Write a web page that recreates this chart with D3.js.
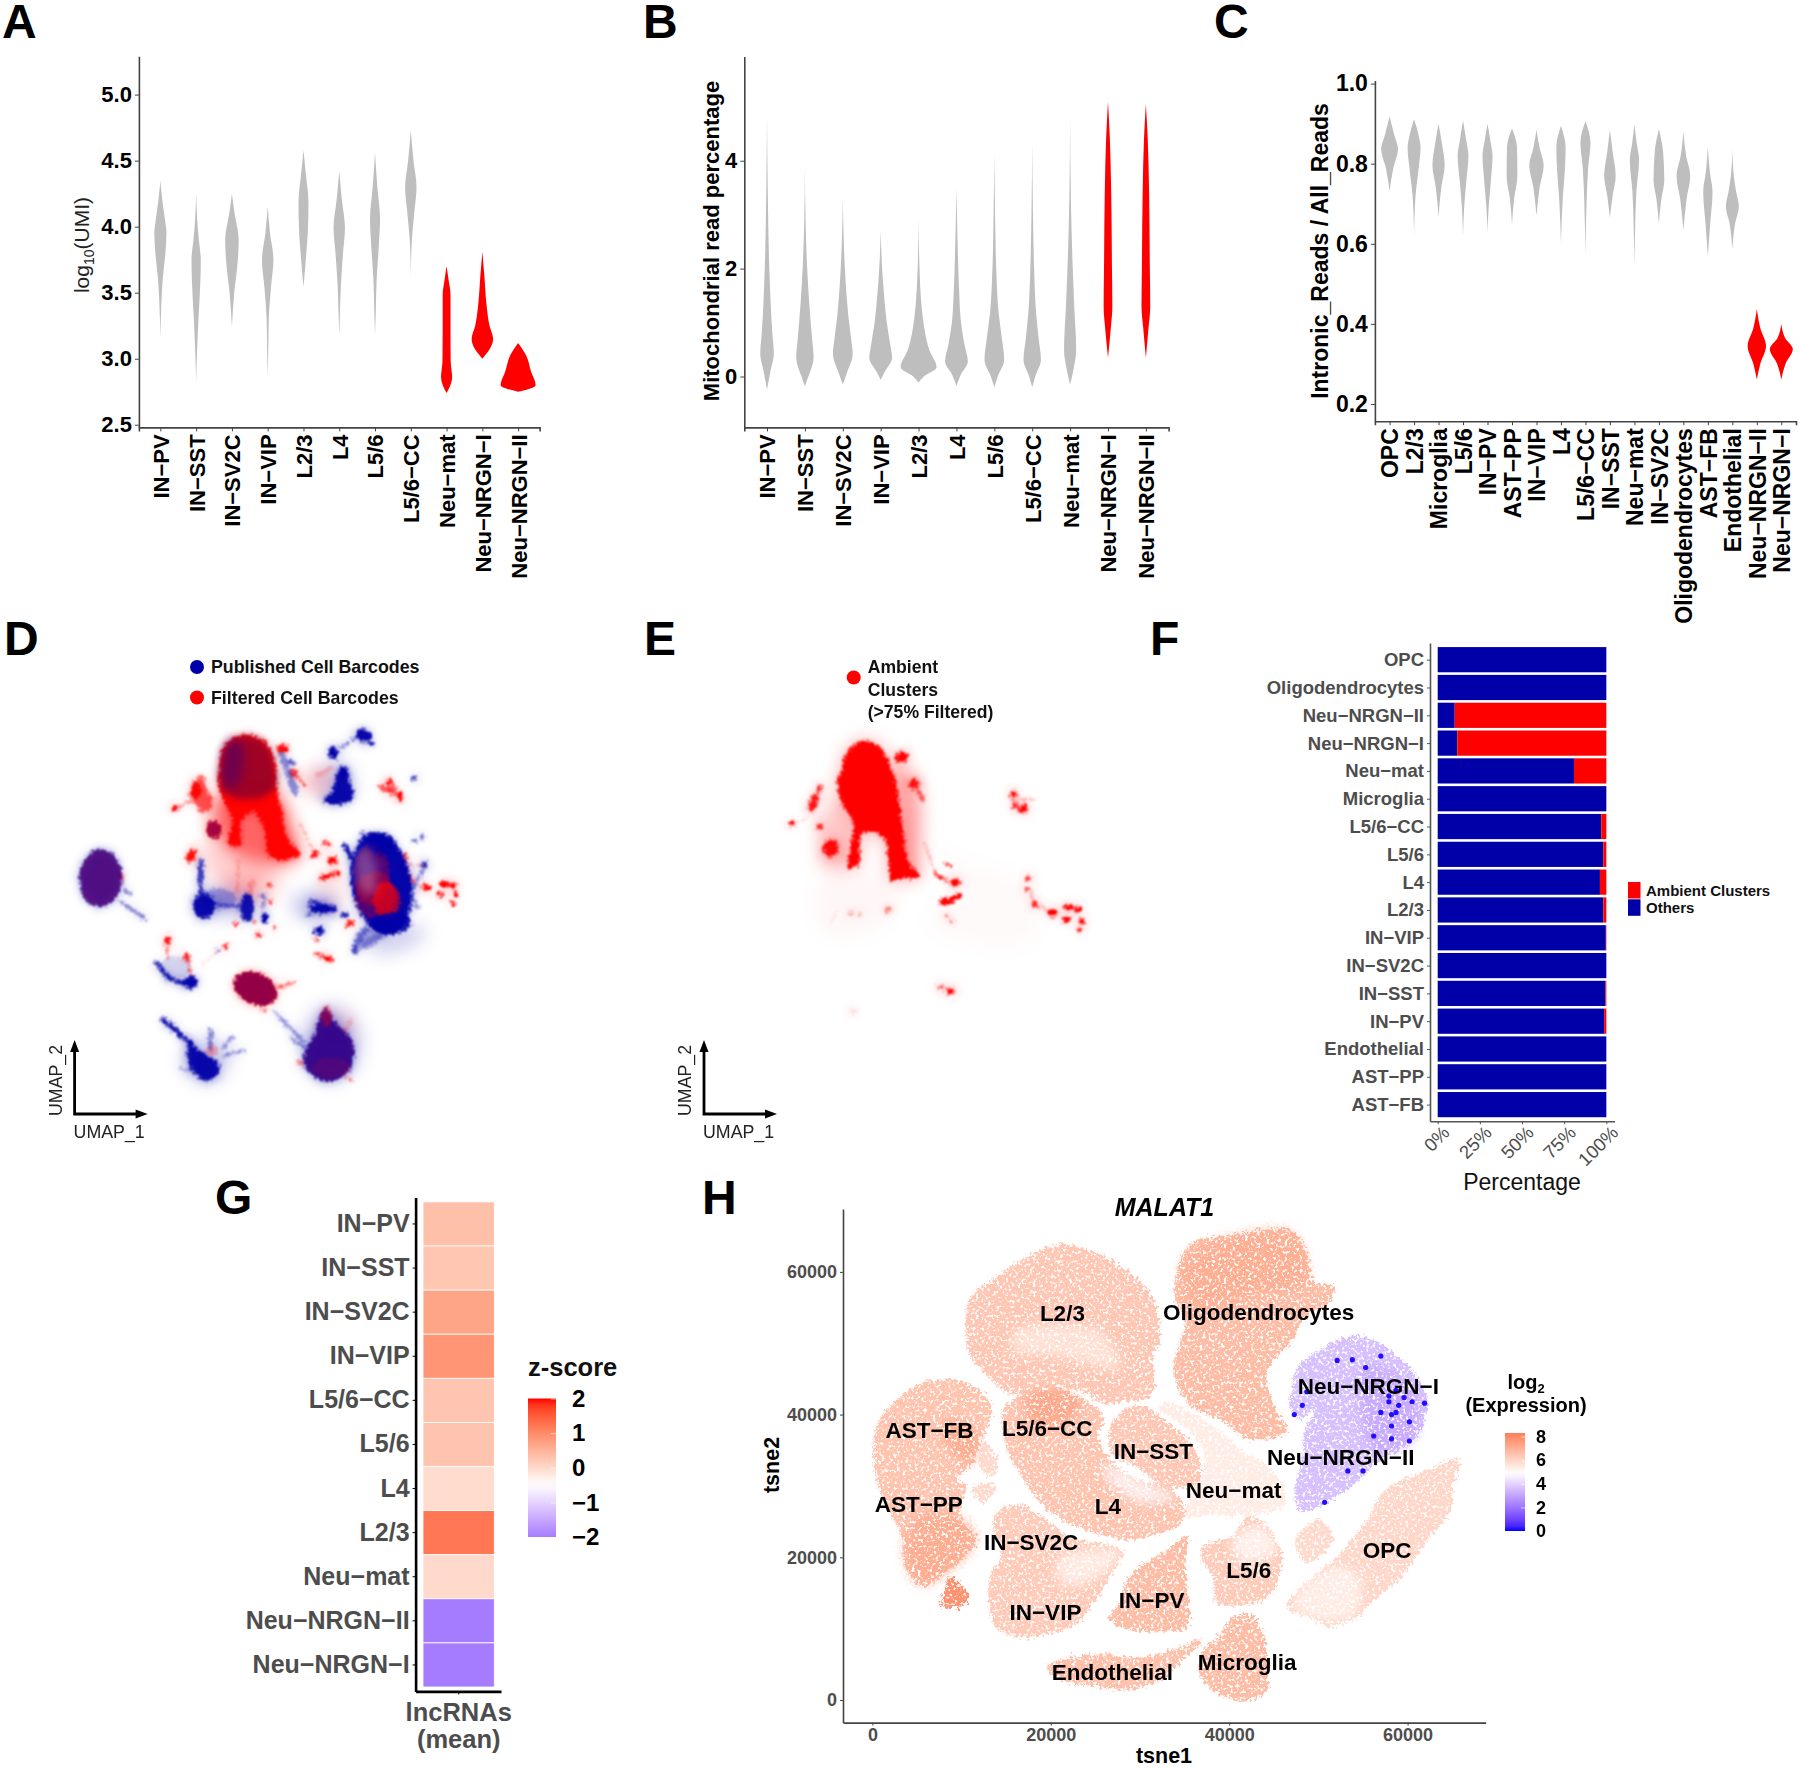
<!DOCTYPE html>
<html>
<head>
<meta charset="utf-8">
<script src="https://cdn.jsdelivr.net/npm/d3@7"></script>
<style>
  body { margin: 0; background: #fff; }
  svg { display: block; font-family: "Liberation Sans", Arial, sans-serif; }
</style>
</head>
<body>
<div id="chart"></div>
<script>
// ---- panel A: log10(UMI) violins, value stops and density (100 = half a category step)
const umiCats = ["IN−PV", "IN−SST", "IN−SV2C", "IN−VIP", "L2/3", "L4", "L5/6", "L5/6−CC", "Neu−mat", "Neu−NRGN−I", "Neu−NRGN−II"];
const umiAmbient = ["Neu−mat", "Neu−NRGN−I", "Neu−NRGN−II"];
const umiValues = [
  [4.35, 4.2, 4.05, 3.95, 3.8, 3.6, 3.4, 3.15],
  [4.25, 4.05, 3.9, 3.75, 3.6, 3.3, 3.05, 2.83],
  [4.25, 4.1, 3.9, 3.7, 3.5, 3.24],
  [4.15, 3.95, 3.75, 3.55, 3.3, 3.05, 2.86],
  [4.58, 4.4, 4.18, 3.95, 3.75, 3.54],
  [4.42, 4.2, 3.99, 3.8, 3.55, 3.35, 3.17],
  [4.56, 4.3, 4.06, 3.85, 3.6, 3.35, 3.18],
  [4.73, 4.5, 4.3, 4.1, 3.9, 3.62],
  [3.7, 3.6, 3.48, 3.2, 2.98, 2.86, 2.74],
  [3.81, 3.63, 3.4, 3.25, 3.15, 3.0],
  [3.12, 3.03, 2.9, 2.8, 2.75]
];
const umiDensity = [
  [0, 11, 26, 34, 28, 13, 5, 0],
  [0, 6, 15, 26, 24, 13, 5, 0],
  [0, 15, 38, 30, 13, 0],
  [0, 13, 32, 19, 6, 3, 0],
  [0, 13, 28, 24, 13, 0],
  [0, 15, 32, 21, 9, 4, 0],
  [0, 13, 28, 21, 9, 4, 0],
  [0, 15, 32, 19, 6, 0],
  [0, 11, 22, 22, 23, 31, 0],
  [0, 11, 24, 40, 60, 0],
  [0, 43, 73, 98, 0]
];

// ---- panel B: mitochondrial read percentage
const mitoCats = umiCats;
const mitoAmbient = ["Neu−NRGN−I", "Neu−NRGN−II"];
const mitoValues = [
  [4.85, 3.4, 2, 1.3, 0.8, 0.42, 0.1, -0.24],
  [3.9, 2.8, 2, 1.3, 0.7, 0.35, 0, -0.18],
  [3.3, 2.4, 1.7, 1.1, 0.7, 0.42, 0.05, -0.15],
  [2.72, 2.1, 1.5, 1, 0.6, 0.35, 0.08, -0.06],
  [2.94, 2, 1.3, 0.9, 0.5, 0.17, 0, -0.11],
  [3.5, 2.5, 1.6, 1, 0.6, 0.28, 0.03, -0.17],
  [4.14, 3, 2, 1.2, 0.7, 0.31, 0, -0.2],
  [4.35, 3, 2, 1.2, 0.7, 0.31, 0, -0.2],
  [4.85, 3.3, 2.2, 1.3, 0.49, 0.1, -0.15],
  [5.1, 4.4, 3.4, 2, 1.3, 0.9, 0.35],
  [5.05, 4.4, 3.4, 2, 1.3, 0.9, 0.35]
];
const mitoDensity = [
  [0, 4, 12, 20, 28, 36, 18, 0],
  [0, 4, 12, 24, 38, 46, 18, 0],
  [0, 6, 16, 30, 44, 52, 20, 0],
  [0, 6, 18, 32, 50, 60, 20, 0],
  [0, 5, 16, 30, 56, 95, 28, 0],
  [0, 6, 14, 24, 42, 60, 22, 0],
  [0, 4, 10, 22, 40, 52, 18, 0],
  [0, 4, 10, 20, 34, 46, 16, 0],
  [0, 4, 12, 22, 32, 16, 0],
  [0, 10, 17, 21, 23, 15, 0],
  [0, 10, 17, 21, 23, 14, 0]
];

// ---- panel C: intronic read fraction
const intronCats = ["OPC", "L2/3", "Microglia", "L5/6", "IN−PV", "AST−PP", "IN−VIP", "L4", "L5/6−CC", "IN−SST", "Neu−mat", "IN−SV2C", "Oligodendrocytes", "AST−FB", "Endothelial", "Neu−NRGN−II", "Neu−NRGN−I"];
const intronAmbient = ["Neu−NRGN−II", "Neu−NRGN−I"];
const intronValues = [
  [.918, .87, .837, .79, .732],
  [.911, .87, .84, .79, .72, .62],
  [.9, .85, .796, .74, .667],
  [.908, .86, .82, .76, .69, .62],
  [.9, .86, .82, .76, .69, .63],
  [.888, .84, .77, .71, .648],
  [.885, .84, .796, .74, .67],
  [.895, .84, .78, .72, .6],
  [.906, .852, .79, .7, .572],
  [.885, .83, .77, .72, .665],
  [.898, .85, .81, .73, .64, .54],
  [.886, .83, .76, .71, .65],
  [.88, .82, .77, .71, .633],
  [.842, .78, .73, .65, .569],
  [.837, .77, .73, .694, .65, .587],
  [.437, .39, .345, .3, .261],
  [.40, .365, .337, .3, .261]
];
const intronDensity = [
  [0, 40, 69, 31, 0],
  [0, 38, 53, 38, 12, 0],
  [0, 28, 50, 22, 0],
  [0, 25, 44, 28, 9, 0],
  [0, 22, 41, 28, 9, 0],
  [0, 41, 44, 16, 0],
  [0, 25, 59, 25, 0],
  [0, 38, 31, 16, 0],
  [0, 41, 22, 9, 0],
  [0, 22, 47, 22, 0],
  [0, 19, 38, 16, 6, 0],
  [0, 34, 44, 19, 0],
  [0, 22, 56, 25, 0],
  [0, 16, 38, 19, 0],
  [0, 12, 31, 53, 22, 0],
  [0, 28, 75, 28, 0],
  [0, 31, 94, 34, 0]
];

// ---- panel D: UMAP cloud read off as outlines, ellipses [x, y, rx, ry, angle, alpha]
// and filaments [x1, y1, x2, y2, width, alpha]
const dRedUnderOutline = [[660,430],[680,360],[740,332],[800,355],[830,415],[835,490],[850,560],[870,640],[905,680],[845,698],[810,680],[795,600],[760,555],[725,590],[725,655],[690,650],[700,575],[675,530],[660,480]];
const dDomeOutline = [[662,440],[680,362],[740,336],[800,358],[828,420],[832,480],[800,510],[740,520],[690,510],[665,480]];
const dFogOutline = [[640,530],[700,500],[840,510],[880,600],[900,680],[840,700],[740,690],[660,630]];
const dLowFogOutline = [[600,650],[720,660],[900,700],[800,760],[760,820],[700,800],[650,760]];
const dLeftRedOutline = [[575,495],[610,450],[620,480],[640,540],[610,560],[590,530]];
const dUpperBlueOutline = [[975,525],[1000,500],[1020,440],[1040,430],[1055,470],[1065,515],[1030,535]];
const dLowLeftOutline = [[570,1225],[600,1250],[660,1290],[655,1320],[625,1338],[590,1320],[570,1290]];
const dLowRightOutline = [[985,1125],[1005,1160],[1060,1220],[1068,1270],[1040,1320],[985,1340],[930,1310],[915,1270],[950,1200],[965,1150]];
const dRoundOutline = [[245,720],[290,668],[340,680],[365,730],[360,790],[320,830],[270,825],[245,780]];

const dRedEllipses = [
  [590,495,17,25,0,.9],[528,547,10,7,-30,1],[645,608,22,25,0,.95],[578,685,14,20,30,.95],
  [852,373,17,13,0,.95],[885,445,12,12,0,.7],[1175,470,10,10,0,1],[1205,512,10,15,-20,1],[1165,490,25,10,20,.6],[1185,495,14,14,0,.5],
  [1220,690,8,10,0,.8],[1003,698,14,10,0,1],[950,680,10,12,30,.9],[985,650,14,6,20,.8],[1055,882,14,8,-30,.9],[955,930,6,6,0,.6],[990,985,12,8,0,1],
  [1287,777,14,9,0,1],[1340,768,16,10,0,1],[1328,796,10,8,0,1],[1365,770,12,8,0,1],[1375,798,9,7,30,1],[1365,822,8,7,0,.9],
  [812,770,7,6,0,.8],[815,818,7,7,0,.7],[712,882,8,6,0,.8],[778,915,9,8,0,.9],[828,892,6,6,0,.6],[768,878,6,6,0,.5],
  [505,933,9,13,0,.9],[562,978,8,12,0,.8],[680,948,8,8,0,.8],[770,1070,68,45,22,1],[795,1135,7,7,0,.4],[905,1285,10,8,0,.5],[365,745,8,8,0,.7]
];
const dBlueEllipses = [
  [615,830,33,36,0,.95],[745,835,20,40,0,.9],[798,865,11,14,0,1],[790,800,8,8,0,.5],[795,820,6,6,0,.5],[660,810,50,30,0,.25],
  [1005,385,16,18,0,1],[1035,440,15,15,0,1],[1095,335,25,18,10,.95],[1248,460,9,8,0,.7],
  [1150,765,90,150,-10,.97],[1280,710,8,10,0,.7],[1275,630,6,7,0,.6],[1250,640,8,7,0,.5],[1070,960,10,12,0,.6],
  [975,838,42,14,0,.95],[962,903,16,12,0,.95],[1040,857,12,8,0,.8],[655,960,6,5,0,.5],[530,1010,45,35,0,.12],[575,1052,20,18,0,.95],
  [300,745,62,84,0,.1],[1110,920,50,30,-30,.25]
];
const dRedOverlay = [
  [1120,740,55,90,0,.3],[1165,815,40,55,0,.65],[1130,800,60,70,0,.3],[640,1250,20,15,0,.25],[985,1150,18,30,0,.35],[1000,1300,60,30,0,.12]
];
const dBlueOverlay = [
  [645,608,22,25,0,.35],[770,1070,68,45,22,.42],[1180,880,60,30,0,.9],[1150,650,40,30,0,.8],[575,1052,20,18,0,.3]
];
const dDomeShade = [[700,420,35,75,8,.3]];
const dBlueFog = [[680,820,85,45,0,.22],[1200,930,90,30,-20,.2],[1010,470,60,60,0,.15],[620,1280,70,60,0,.2],[1000,1230,90,110,0,.2],[950,830,70,40,0,.25]];
const dRedFog = [[760,770,90,50,0,.14],[960,470,40,40,0,.25],[1000,790,40,60,0,.1],[1010,1190,50,50,0,.16]];
const dPaleSpots = [[1105,730,30,70,-8,.25]];
const dBlueRays = [
  [605,700,605,790,16,.7],[655,825,730,835,12,.5],[800,800,790,850,5,.4],[850,390,890,500,20,.4],[870,410,885,415,12,.6],
  [1025,370,1085,335,7,.5],[1100,340,1125,362,9,.9],[1040,655,1075,720,15,.9],[1090,620,1130,640,9,.5],[1285,705,1240,790,9,.5],
  [1070,950,1100,900,18,.4],[1100,940,1180,900,20,.25],[935,815,990,835,9,.8],[925,860,945,845,7,.5],[925,830,950,840,6,.5],[470,995,510,1040,12,.85],[510,1040,570,1060,12,.85],
  [830,1140,915,1225,10,.4],[490,1160,575,1230,13,.9],[635,1190,635,1250,11,.5],[700,1210,670,1245,9,.4],[735,1250,675,1265,9,.4],[545,1303,585,1310,8,.4],
  [880,1215,930,1250,9,.4],[365,820,440,868,9,.45],[375,785,392,795,10,.5],[1240,800,1260,835,8,.4]
];
const dRedRays = [
  [525,547,590,520,6,.5],[890,450,920,480,6,.6],[1210,720,1245,760,10,.7],[1210,710,1280,715,4,.4],[965,750,1020,735,12,1],[905,590,950,680,4,.3],
  [950,968,995,985,8,.9],[565,970,578,1040,7,.5],[505,930,505,985,5,.5],[610,1000,680,945,4,.15],[840,1065,888,1052,8,.6],[1060,1160,1030,1210,6,.3],
  [1040,1325,1065,1340,6,.6],[720,700,715,800,10,.15],[760,760,745,830,14,.25],[960,450,1000,430,14,.18]
];

// ---- panel E: same cells, ambient clusters only
const eMainOutline = [[600,450],[620,385],[670,350],[720,370],[755,430],[775,510],[790,620],[805,700],[840,745],[780,750],[755,760],[745,700],[735,640],[700,615],[665,620],[655,710],[625,720],[635,640],[640,590],[605,530],[590,470]];
const eFogOutline = [[560,540],[610,530],[640,600],[620,720],[550,720]];
const eFog2Outline = [[770,420],[820,450],[840,540],[835,690],[830,740],[790,730],[780,500]];
const eFog3Outline = [[850,640],[960,690],[1190,780],[1180,930],[1020,950],[860,880],[930,760]];
const eFog4Outline = [[540,760],[760,760],[740,880],[550,910]];
const eNodes = [
  [785,397,20,15,0,1],[822,475,14,15,0,.9],[520,530,12,28,20,.9],[538,490,8,12,20,.8],[455,590,10,7,-30,1],[540,600,12,8,0,.8],[572,663,23,26,0,.95],
  [1120,505,11,11,0,1],[1150,548,13,13,0,1],[1125,540,9,9,0,.8],[945,762,15,11,0,1],[922,860,6,6,0,.5],[933,875,5,5,0,.5],
  [1165,750,8,11,0,.7],[1160,780,7,7,0,.6],[1185,825,10,10,0,.8],[1237,850,15,11,0,1],[1285,835,13,10,0,1],[1315,840,11,9,0,1],[1278,870,11,10,0,1],[1325,875,10,8,30,1],[1318,898,7,7,0,.9],
  [900,1065,10,6,0,.7],[930,1078,13,9,0,1],[632,853,7,6,0,.4],[660,855,6,5,0,.25],[745,840,9,8,-30,.5],[640,1137,6,5,0,.12]
];
const eRays = [
  [850,525,825,480,10,.6],[505,575,460,590,4,.25],[905,820,960,800,12,1],[905,820,935,815,17,1],[880,735,915,755,8,.9],[915,705,935,715,6,.8],[855,650,885,735,5,.3],[1185,520,1110,520,4,.4],[1165,780,1190,830,5,.45],[1190,830,1240,850,4,.35],[570,880,590,845,5,.12]
];

// ---- panel F: share of ambient clusters per cell type
const shareCats = ["OPC", "Oligodendrocytes", "Neu−NRGN−II", "Neu−NRGN−I", "Neu−mat", "Microglia", "L5/6−CC", "L5/6", "L4", "L2/3", "IN−VIP", "IN−SV2C", "IN−SST", "IN−PV", "Endothelial", "AST−PP", "AST−FB"];
const shareAmbient = [0, 0, 89.9, 88.4, 19.2, 0, 3, 1.8, 3.8, 1.8, .3, 0, .5, 1.3, 0, 0, 0];
const shareTicks = [0, 25, 50, 75, 100];

// ---- panel G: lncRNA z-scores
const lncCats = ["IN−PV", "IN−SST", "IN−SV2C", "IN−VIP", "L5/6−CC", "L5/6", "L4", "L2/3", "Neu−mat", "Neu−NRGN−II", "Neu−NRGN−I"];
const lncZ = [.33, .25, .68, .87, .27, .28, -.03, 1.22, 0, -2, -2];
const lncLegendTicks = [2, 1, 0, -1, -2];

// ---- panel H: tSNE clusters, outlines in thousands of tsne units
const clusterNames = ["AST", "AST-tail", "AST-isle1", "AST-isle2", "L2/3", "Oligodendrocytes", "L5/6-CC+L4", "IN-SST", "Neu-mat", "L5/6", "IN-SV2C+VIP", "IN-PV", "OPC", "OPC-isle", "Endothelial", "Microglia", "Neu-NRGN"];
const clusterExpr = [6.5, 7.8, 5.9, 5.9, 6.4, 6.7, 6.5, 6.4, 5.4, 6.3, 6.3, 6.7, 6.0, 5.9, 6.6, 6.7, 3.6];
const clusterOutlines = [
  [[.7,39.2],[3.5,42.9],[6.4,44.7],[10.4,44.5],[13.3,41.3],[12.1,36.1],[11,32.9],[9.3,30.8],[10.4,30.3],[9.8,25.6],[11.6,22.4],[10.4,20.3],[8.1,17.7],[5.3,15.9],[3.5,19.3],[3.3,22.9],[1.8,26.6],[.4,30.8],[.1,36.1]],
  [[8.7,17.2],[10.7,14.8],[10.1,13.2],[7.6,13.2],[8.1,15.6]],
  [[12.4,36.1],[14.1,33.4],[13.3,31.3],[12.1,32.4]],
  [[11,29.8],[13.3,30.3],[13.8,29.8],[12.4,27.7]],
  [[11,56.5],[13.8,59.2],[17.3,62.1],[20.7,63.8],[24.1,63.1],[28.1,60.5],[31,57.1],[32.1,53.4],[32.1,49.7],[31.3,48.1],[31.6,45],[31,42.4],[28.1,41.8],[25.9,41.6],[23,43.4],[19.6,43.7],[15.6,42.9],[13.3,45],[11,48.1],[10.4,51.8]],
  [[33.9,58.6],[35.6,63.9],[40.2,65.2],[47,65.7],[48.7,62.3],[49.3,58.6],[51.6,58.1],[51.3,56],[48.2,53.4],[47.3,50.8],[44.2,46],[45.3,40.3],[46.4,37.6],[42.2,36.6],[39,39.2],[35.6,41.3],[33.9,45],[33.9,48.1],[35,52.9],[33.9,56]],
  [[14.7,40.8],[17.3,43.2],[20.7,43.7],[23.6,42.1],[25.9,39.7],[25.3,37.1],[26.4,34],[29.9,30.8],[33.3,29.8],[35,26.6],[34.1,24.3],[31,22.9],[28.1,22.5],[23.6,24],[19.6,26.6],[16.7,31.3],[15,35.5]],
  [[27,39.2],[29.6,41.3],[33.3,38.7],[36.2,35],[36.7,30.8],[35,29.8],[32.1,30.3],[29.9,32.4],[27,34.5],[26.4,36.6]],
  [[32.7,41.8],[35.6,40.3],[39,37.6],[41.3,35],[44.2,32.9],[46.4,28.7],[45.9,26.9],[43.6,26.1],[40.2,25.6],[37.9,26.1],[35,25.6],[35.6,28.7],[37,31.9],[37,35],[35,38.2],[32.1,40.8]],
  [[37,21.6],[40.2,22.9],[41.9,25.6],[43.6,25],[45.3,22.4],[45.9,19.8],[45,15.6],[43.9,14],[40.7,13.2],[38.4,13.8],[38.2,17.2],[37,19.3]],
  [[13.8,26.1],[16.1,27.4],[19,25.6],[21.9,22.9],[28.1,20.8],[27,18.2],[24.7,13.5],[22.4,10.3],[19.6,9.3],[16.1,8.8],[13.8,10.3],[13,13.5],[13.3,17.7],[14.4,20.3],[13.6,23.5]],
  [[33.9,21.9],[35.3,22.9],[35,19.3],[35.3,15.1],[35.3,10.3],[32.1,9.6],[28.1,10.1],[26.4,11.4],[27.6,13.5],[28.4,16.6],[29.9,18.7],[32.1,20.3]],
  [[46.4,13],[49.3,17.2],[52.2,20.3],[55.6,25.6],[57.3,29.2],[62.5,32.4],[65.6,33.7],[65,29.2],[64.8,26.6],[61.9,21.9],[59.6,17.7],[56.7,14.5],[53.9,11.4],[51,10.3],[48.7,11.7]],
  [[47.3,22.4],[49.9,25.3],[51.6,22.9],[50.7,20.8],[48.7,19.2],[47.8,20.3]],
  [[19.6,4.6],[21.9,5.9],[26.4,6.4],[29.9,5.9],[33.9,7.2],[37,8.5],[36.7,8],[34.4,5.1],[32.1,2.7],[28.1,1.4],[25.3,1.9],[21.3,2.7]],
  [[40.2,11.4],[42.4,11.9],[43.9,8.8],[44.2,4.6],[44.2,1.2],[41.3,-.1],[38.4,1.2],[36.7,3.5],[37,6.7],[39,9.3]],
  [[47,43.4],[47.6,46.6],[51,49.7],[54.7,51],[59,48.1],[61.9,43.4],[62.2,40.8],[60.7,36.6],[56.7,33.4],[54.5,30.8],[51.6,28.2],[47.9,26.4],[47.3,29.2],[48.2,34],[48.4,37.6],[49.6,40.8],[47.9,39.5],[46.7,41.3]]
];
// local differences inside the clusters
const patchExpr = [7.5, 4.8, 5.5, 7.3, 7.3, 7.2, 5.2, 5.2, 5, 3.0];
const patchOutlines = [
  [[17.3,42.6],[20.7,43.4],[23.3,41.8],[21.9,39.2],[17.8,38.7]],
  [[25.9,32.9],[31,30.3],[33.9,28.2],[29.9,27.7],[26.4,30.8]],
  [[16.1,51.8],[25.3,51.8],[27.6,46.6],[20.7,48.1],[15.6,49.2]],
  [[4.7,25.6],[9.8,25.6],[11.6,22.4],[8.7,18.2],[5.3,16.1],[3.5,20.3]],
  [[8.1,39.2],[11.8,37.1],[11,32.9],[8.7,35]],
  [[34.7,61.3],[40.2,64.9],[47,65.5],[48.7,58.6],[43.6,57.1],[35.6,55.5]],
  [[20.7,19.8],[27.9,20.8],[25.3,17.2],[21.3,16.1]],
  [[47,13.5],[51.6,18.7],[54.5,17.2],[53.9,11.9],[49.3,11.4]],
  [[40.2,22.4],[43.6,24.5],[45.3,20.8],[41.3,19.3]],
  [[55,46.6],[60.7,43.4],[60.7,36.6],[56.2,35]]
];
const lowCells = [[48.7,43.2],[48.2,41.3],[47.3,40],[52.1,47.6],[53.8,47.7],[57,48.2],[55.3,46.6],[57.9,42.6],[59.6,42.4],[60.5,41.8],[61.9,41.6],[57,40.3],[58.2,40],[58.7,40.3],[60.2,39],[58.2,38.4],[60.2,36.3],[58.2,36.6],[56.2,37],[55,32.1],[50.7,27.7],[53.3,32.1],[58.7,43.4],[57.9,41.8],[59,41.3]];
const labelNames = ["L2/3", "Oligodendrocytes", "Neu−NRGN−I", "AST−FB", "L5/6−CC", "IN−SST", "Neu−NRGN−II", "Neu−mat", "L4", "AST−PP", "IN−SV2C", "OPC", "L5/6", "IN−PV", "IN−VIP", "Microglia", "Endothelial"];
const labelPos = [[21.3,54.2],[43.3,54.4],[55.6,44],[6.4,37.9],[19.6,38.2],[31.5,34.9],[52.5,34.1],[40.5,29.4],[26.4,27.2],[5.2,27.5],[17.8,22.1],[57.7,21.1],[42.2,18.2],[31.3,14],[19.4,12.4],[42,5.3],[26.9,4]];
const tsneTicks = [0, 20000, 40000, 60000];
const exprTicks = [8, 6, 4, 2, 0];

const svg = d3.select("#chart").append("svg").attr("width", 1800).attr("height", 1768);
const defs = svg.append("defs");

function blurFilter(id, sd) {
  defs.append("filter").attr("id", id).attr("x", "-40%").attr("y", "-40%").attr("width", "180%").attr("height", "180%")
    .append("feGaussianBlur").attr("stdDeviation", sd);
}
blurFilter("patch", 5);
blurFilter("dot", .7);
blurFilter("fog", 9);

// fuzzy edge for the UMAP clouds
function cloudFilter(id, freq, amount, sd) {
  const f = defs.append("filter").attr("id", id).attr("x", "-40%").attr("y", "-40%").attr("width", "180%").attr("height", "180%");
  f.append("feTurbulence").attr("type", "fractalNoise").attr("baseFrequency", freq).attr("numOctaves", 2).attr("seed", 3).attr("result", "n");
  f.append("feDisplacementMap").attr("in", "SourceGraphic").attr("in2", "n").attr("scale", amount).attr("xChannelSelector", "R").attr("yChannelSelector", "G").attr("result", "d");
  f.append("feGaussianBlur").attr("in", "d").attr("stdDeviation", sd);
}
cloudFilter("soft", .4, 9, 1.3);
cloudFilter("mid", .3, 12, 3);
cloudFilter("halo", .25, 18, 4.5);

// rough edge and white flecks for the tSNE clouds
const speckle = defs.append("filter").attr("id", "speckle")
  .attr("filterUnits", "userSpaceOnUse").attr("x", 840).attr("y", 1200).attr("width", 650).attr("height", 530)
  .attr("color-interpolation-filters", "sRGB");
speckle.append("feTurbulence").attr("type", "fractalNoise").attr("baseFrequency", .33).attr("numOctaves", 2).attr("seed", 7).attr("result", "n");
speckle.append("feDisplacementMap").attr("in", "SourceGraphic").attr("in2", "n").attr("scale", 12).attr("xChannelSelector", "R").attr("yChannelSelector", "G").attr("result", "d");
speckle.append("feColorMatrix").attr("in", "n").attr("type", "matrix")
  .attr("values", "0 0 0 0 1  0 0 0 0 1  0 0 0 0 1  6 0 0 0 -3.2").attr("result", "w");
speckle.append("feGaussianBlur").attr("in", "w").attr("stdDeviation", .6).attr("result", "ws");
speckle.append("feComposite").attr("in", "ws").attr("in2", "d").attr("operator", "in").attr("result", "flecks");
const speckleMerge = speckle.append("feMerge");
speckleMerge.append("feMergeNode").attr("in", "d");
speckleMerge.append("feMergeNode").attr("in", "flecks");

function panelLetter(txt, x, y) {
  svg.append("text").attr("x", x).attr("y", y).attr("font-size", 48).attr("font-weight", "bold").attr("fill", "#000").text(txt);
}

function styleAxis(g, size, color, lineColor) {
  g.selectAll("text").attr("font-size", size).attr("font-weight", "bold").attr("fill", color)
    .attr("font-family", "'Liberation Sans', Arial, sans-serif");
  g.selectAll("path,line").attr("stroke", lineColor || "#444");
  g.select("path.domain").attr("stroke-width", 1.6);
}

// violin panels A-C share everything except scales and data
function violinPanel(p) {
  const x = d3.scalePoint().domain(p.cats).range(p.xRange).padding(.6);
  const y = d3.scaleLinear().domain(p.yDomain).range(p.yRange);
  const half = x.step() / 2;
  const violin = d3.area().curve(d3.curveMonotoneY)
    .y(d => y(d[0]))
    .x0(d => -d[1] / 100 * half)
    .x1(d => d[1] / 100 * half);

  svg.append("g").selectAll("path")
    .data(p.cats)
    .enter()
    .append("path")
    .attr("transform", d => `translate(${x(d)},0)`)
    .attr("d", (d, i) => violin(d3.zip(p.values[i], p.density[i])))
    .attr("fill", d => p.ambient.includes(d) ? "#ff0000" : "#bebebe");

  const bottom = svg.append("g").attr("transform", `translate(0,${p.yRange[0]})`)
    .call(d3.axisBottom(x).tickSizeOuter(0).tickSize(4));
  styleAxis(bottom, p.font, "#000");
  bottom.selectAll("text").attr("transform", "rotate(-90)").attr("x", -p.labelGap).attr("y", 0).attr("dy", ".36em").attr("text-anchor", "end");

  const left = svg.append("g").attr("transform", `translate(${p.xRange[0]},0)`)
    .call(d3.axisLeft(y).tickValues(p.ticks).tickFormat(d3.format(p.fmt)).tickSize(4).tickSizeOuter(0));
  styleAxis(left, p.font, "#000");
}

violinPanel({
  cats: umiCats, values: umiValues, density: umiDensity, ambient: umiAmbient,
  xRange: [138.9, 539.6], yRange: [427.4, 56.3], yDomain: [2.48, 5.29],
  ticks: [2.5, 3, 3.5, 4, 4.5, 5], fmt: ".1f", font: 22, labelGap: 7
});
violinPanel({
  cats: mitoCats, values: mitoValues, density: mitoDensity, ambient: mitoAmbient,
  xRange: [744.3, 1168.6], yRange: [427.4, 56.6], yDomain: [-.943, 5.93],
  ticks: [0, 2, 4], fmt: "d", font: 22, labelGap: 7
});
violinPanel({
  cats: intronCats, values: intronValues, density: intronDensity, ambient: intronAmbient,
  xRange: [1374.9, 1796], yRange: [421.2, 80.4], yDomain: [.157, 1.008],
  ticks: [.2, .4, .6, .8, 1], fmt: ".1f", font: 23, labelGap: 7
});

// y titles of A-C
const umiTitle = svg.append("text").attr("transform", "translate(89,245) rotate(-90)").attr("text-anchor", "middle").attr("font-size", 21).attr("fill", "#222");
umiTitle.append("tspan").text("log");
umiTitle.append("tspan").attr("font-size", 14).attr("dy", 5).text("10");
umiTitle.append("tspan").attr("dy", -5).text("(UMI)");
svg.append("text").attr("transform", "translate(719,241) rotate(-90)").attr("text-anchor", "middle").attr("font-size", 22).attr("font-weight", "bold").text("Mitochondrial read percentage");
svg.append("text").attr("transform", "translate(1328,251) rotate(-90)").attr("text-anchor", "middle").attr("font-size", 23).attr("font-weight", "bold").text("Intronic_Reads / All_Reads");

panelLetter("A", 2, 38);
panelLetter("B", 643, 38);
panelLetter("C", 1214, 38);
panelLetter("D", 4, 655);
panelLetter("E", 644, 655);
panelLetter("F", 1150, 655);
panelLetter("G", 215, 1214);
panelLetter("H", 702, 1214);

// ---- UMAP helpers
const blob = d3.line().curve(d3.curveCatmullRomClosed);

function umapLayer(parent, sx, sy, filter, k, color, s) {
  const g = parent.append("g").attr("filter", `url(#${filter})`).attr("fill", color).attr("stroke", color);
  (s.polys || []).forEach(p => {
    g.append("path").attr("d", blob(p[0].map(d => [sx(d[0]), sy(d[1])]))).attr("opacity", p[1] * k).attr("stroke", "none");
  });
  g.selectAll("ellipse.e").data(s.ellipses || []).enter().append("ellipse")
    .attr("stroke", "none")
    .attr("cx", 0).attr("cy", 0)
    .attr("rx", d => sx(d[2]) - sx(0))
    .attr("ry", d => sy(d[3]) - sy(0))
    .attr("opacity", d => d[5] * k)
    .attr("transform", d => `translate(${sx(d[0])},${sy(d[1])}) rotate(${d[4]})`);
  g.selectAll("line.r").data(s.rays || []).enter().append("line")
    .attr("stroke-linecap", "round")
    .attr("x1", d => sx(d[0])).attr("y1", d => sy(d[1]))
    .attr("x2", d => sx(d[2])).attr("y2", d => sy(d[3]))
    .attr("stroke-width", d => (sx(d[4]) - sx(0)))
    .attr("opacity", d => d[5] * k);
}

function umapArrows(x0, y0, xTip, yTip) {
  const path = d3.path();
  path.moveTo(x0, yTip + 8); path.lineTo(x0, y0); path.lineTo(xTip - 8, y0);
  svg.append("path").attr("d", path.toString()).attr("fill", "none").attr("stroke", "#000").attr("stroke-width", 2.8);
  svg.append("path").attr("fill", "#000").attr("d", d3.line()([[x0, yTip], [x0 + 4.5, yTip + 12], [x0 - 4.5, yTip + 12]]));
  svg.append("path").attr("fill", "#000").attr("d", d3.line()([[xTip, y0], [xTip - 12, y0 - 4.5], [xTip - 12, y0 + 4.5]]));
  svg.append("text").attr("x", x0 - 1).attr("y", y0 + 24).attr("font-size", 17.8).attr("fill", "#222").text("UMAP_1");
  svg.append("text").attr("transform", `translate(${x0 - 13},${y0 + 2}) rotate(-90)`).attr("font-size", 17.8).attr("fill", "#222").text("UMAP_2");
}

// ---- panel D
const dX = d3.scaleLinear().domain([0, 1568]).range([0, 520]);
const dY = d3.scaleLinear().domain([0, 1568]).range([620, 1160]);
const dBlue = "#0000a8", dRed = "#ff0000";
const dRedBase = {
  polys: [[dRedUnderOutline, .97], [dLeftRedOutline, .6]],
  ellipses: dRedEllipses, rays: dRedRays
};
const dBlueMid = {
  polys: [[dUpperBlueOutline, .95], [dLowLeftOutline, .95], [dLowRightOutline, .92], [dRoundOutline, .85]],
  ellipses: dBlueEllipses, rays: dBlueRays
};
const dRedTop = {
  polys: [[dRoundOutline, .25], [dLowRightOutline, .18]],
  ellipses: dRedOverlay
};
const dBlueTop = { ellipses: dBlueOverlay };
const panelD = svg.append("g");
umapLayer(panelD, dX, dY, "fog", 1, dRed, { polys: [[dFogOutline, .6], [dLowFogOutline, .18]], ellipses: dRedFog });
umapLayer(panelD, dX, dY, "fog", 1, dBlue, { ellipses: dBlueFog });
umapLayer(panelD, dX, dY, "halo", .4, dRed, dRedBase);
umapLayer(panelD, dX, dY, "halo", .45, dBlue, dBlueMid);
umapLayer(panelD, dX, dY, "soft", 1, dRed, dRedBase);
umapLayer(panelD, dX, dY, "soft", 1, dBlue, dBlueMid);
umapLayer(panelD, dX, dY, "mid", 1, "#500040", { polys: [[dDomeOutline, .55]] });
umapLayer(panelD, dX, dY, "halo", 1, dBlue, { ellipses: dDomeShade });
umapLayer(panelD, dX, dY, "soft", 1, dRed, dRedTop);
umapLayer(panelD, dX, dY, "soft", 1, dBlue, dBlueTop);
umapLayer(panelD, dX, dY, "halo", 1, "#ffffff", { ellipses: dPaleSpots });

const legendDotsD = [["Published Cell Barcodes", dBlue], ["Filtered Cell Barcodes", dRed]];
svg.append("g").selectAll("g").data(legendDotsD).enter().append("g")
  .attr("transform", (d, i) => `translate(197,${667 + i * 30.5})`)
  .each(function(d) {
    d3.select(this).append("circle").attr("r", 7).attr("fill", d[1]);
    d3.select(this).append("text").attr("x", 14).attr("dy", ".36em").attr("font-size", 17.8).attr("font-weight", "bold").attr("fill", "#111").text(d[0]);
  });
umapArrows(74.6, 1114, 147.6, 1040);

// ---- panel E
const eX = d3.scaleLinear().domain([0, 1568]).range([640, 1162.7]);
const eY = d3.scaleLinear().domain([0, 1568]).range([620, 1160]);
const panelE = svg.append("g");
umapLayer(panelE, eX, eY, "fog", 1, dRed, {
  polys: [[eFogOutline, .22], [eFog2Outline, .4], [eFog3Outline, .02], [eFog4Outline, .03], [eMainOutline, .35]]
});
umapLayer(panelE, eX, eY, "halo", 1, dRed, {
  ellipses: eNodes.map(d => [d[0], d[1], d[2] * 1.5, d[3] * 1.5, d[4], .2])
});
umapLayer(panelE, eX, eY, "soft", 1, dRed, {
  polys: [[eMainOutline, 1]],
  ellipses: eNodes, rays: eRays
});
svg.append("circle").attr("cx", 853.7).attr("cy", 677.5).attr("r", 7).attr("fill", dRed);
const eLegendLines = ["Ambient", "Clusters", "(>75% Filtered)"];
svg.append("g").selectAll("text").data(eLegendLines).enter().append("text")
  .attr("x", 867.7).attr("y", (d, i) => 667 + i * 22.5).attr("dy", ".36em")
  .attr("font-size", 17.6).attr("font-weight", "bold").attr("fill", "#111").text(d => d);
umapArrows(704, 1114, 777, 1040);

// ---- panel F
const shareRows = shareCats.map((c, i) => ({ cat: c, ambient: shareAmbient[i], others: 100 - shareAmbient[i] }));
const shareStack = d3.stack().keys(["others", "ambient"])(shareRows);
const fX = d3.scaleLinear().domain([-4.56, 104.9]).range([1430, 1614.6]);
const fY = d3.scalePoint().domain(shareCats).range([643, 1121.3]).padding(.6);
const fColor = { others: "#0000a8", ambient: "#ff0000" };
svg.append("g").selectAll("g").data(shareStack).enter().append("g")
  .attr("fill", d => fColor[d.key])
  .selectAll("rect").data(d => d).enter().append("rect")
  .attr("x", d => fX(d[0]))
  .attr("width", d => fX(d[1]) - fX(d[0]))
  .attr("y", d => fY(d.data.cat) - 12.6)
  .attr("height", 25.2);
const fLeft = svg.append("g").attr("transform", "translate(1430,0)").call(d3.axisLeft(fY).tickSize(3).tickSizeOuter(0));
styleAxis(fLeft, 18.5, "#4d4d4d", "#555");
const fBottom = svg.append("g").attr("transform", "translate(0,1121.3)")
  .call(d3.axisBottom(fX).tickValues(shareTicks).tickFormat(d => d + "%").tickSize(3).tickSizeOuter(0));
styleAxis(fBottom, 18.5, "#4d4d4d", "#555");
fBottom.selectAll("text").attr("font-weight", "normal").attr("text-anchor", "end")
  .attr("transform", "rotate(-45)").attr("x", 0).attr("y", 11).attr("dy", ".36em");
svg.append("text").attr("x", 1522).attr("y", 1190).attr("text-anchor", "middle").attr("font-size", 23).attr("fill", "#111").text("Percentage");
const fLegend = [["Ambient Clusters", "#ff0000"], ["Others", "#0000a8"]];
svg.append("g").selectAll("g").data(fLegend).enter().append("g")
  .attr("transform", (d, i) => `translate(1628,${882 + i * 17.3})`)
  .each(function(d) {
    d3.select(this).append("rect").attr("width", 12.5).attr("height", 16.5).attr("fill", d[1]);
    d3.select(this).append("text").attr("x", 18).attr("y", 8.3).attr("dy", ".36em").attr("font-size", 15).attr("font-weight", "bold").attr("fill", "#111").text(d[0]);
  });

// ---- panel G
const zColor = d3.scaleLinear().domain([-2, -.5, 2]).range(["#a67cff", "#ffffff", "#ff0000"]).interpolate(d3.interpolateLab);
const gY = d3.scaleBand().domain(lncCats).range([1197.5, 1691.4]).paddingOuter(.1).paddingInner(0);
svg.append("g").selectAll("rect").data(lncCats).enter().append("rect")
  .attr("x", 423).attr("width", 71.3)
  .attr("y", d => gY(d)).attr("height", gY.bandwidth())
  .attr("fill", (d, i) => zColor(lncZ[i]))
  .attr("stroke", "#fff").attr("stroke-width", .8);
const gLeft = svg.append("g").attr("transform", "translate(415.6,0)").call(d3.axisLeft(gY).tickSize(3).tickSizeOuter(0));
styleAxis(gLeft, 25, "#4d4d4d", "#000");
gLeft.select("path.domain").attr("stroke-width", 2.6);
const gX = d3.scalePoint().domain(["lncRNAs"]).range([415.6, 501]).padding(.5);
const gBottom = svg.append("g").attr("transform", "translate(0,1691.4)").call(d3.axisBottom(gX).tickFormat("").tickSize(3).tickSizeOuter(0));
styleAxis(gBottom, 22, "#4d4d4d", "#000");
gBottom.select("path.domain").attr("stroke-width", 2.6);
svg.append("text").attr("x", 458.7).attr("y", 1721).attr("text-anchor", "middle").attr("font-size", 25.5).attr("font-weight", "bold").attr("fill", "#4d4d4d").text("lncRNAs");
svg.append("text").attr("x", 458.7).attr("y", 1748).attr("text-anchor", "middle").attr("font-size", 25.5).attr("font-weight", "bold").attr("fill", "#4d4d4d").text("(mean)");
svg.append("text").attr("x", 528).attr("y", 1376).attr("font-size", 25.5).attr("font-weight", "bold").attr("fill", "#111").text("z-score");

// colourbars: gradient stops sampled from the scale itself
function colorBar(id, color, yScale, x, w) {
  const d0 = yScale.domain();
  const grad = defs.append("linearGradient").attr("id", id).attr("x1", 0).attr("x2", 0).attr("y1", 1).attr("y2", 0);
  d3.range(0, 1.001, .05).forEach(t => {
    grad.append("stop").attr("offset", t).attr("stop-color", color(d0[0] + t * (d0[1] - d0[0])));
  });
  svg.append("rect").attr("x", x).attr("width", w).attr("y", yScale(d0[1])).attr("height", yScale(d0[0]) - yScale(d0[1])).attr("fill", `url(#${id})`);
}
const zY = d3.scaleLinear().domain([-2, 2]).range([1537, 1398.5]);
colorBar("zGrad", zColor, zY, 528, 28);
const zAxis = svg.append("g").attr("transform", "translate(556,0)")
  .call(d3.axisRight(zY).tickValues(lncLegendTicks).tickFormat(d => String(d).replace("-", "−")).tickSizeInner(-5).tickSizeOuter(0).tickPadding(16));
styleAxis(zAxis, 24, "#000");
zAxis.select("path.domain").remove();
zAxis.selectAll("line").attr("stroke", "#fff").attr("stroke-opacity", .6);

// ---- panel H
const tX = d3.scaleLinear().domain([-3296, 68756]).range([843, 1485.7]);
const tY = d3.scaleLinear().domain([-3167, 68816]).range([1722.6, 1209]);
const exprColor = d3.scaleLinear().domain([0, 4.9, 8.3]).range(["#0000ff", "#ffffff", "#ff7d58"]).interpolate(d3.interpolateLab);
const tsnePoint = p => [tX(p[0] * 1000), tY(p[1] * 1000)];
const panelH = svg.append("g").attr("filter", "url(#speckle)");
panelH.selectAll("path.c").data(clusterNames).enter().append("path")
  .attr("d", (d, i) => blob(clusterOutlines[i].map(tsnePoint)))
  .attr("fill", (d, i) => exprColor(clusterExpr[i]));
panelH.append("g").attr("filter", "url(#patch)").selectAll("path").data(patchExpr).enter().append("path")
  .attr("d", (d, i) => blob(patchOutlines[i].map(tsnePoint)))
  .attr("fill", d => exprColor(d)).attr("opacity", .75);
svg.append("g").attr("filter", "url(#dot)").selectAll("circle").data(lowCells).enter().append("circle")
  .attr("cx", d => tsnePoint(d)[0]).attr("cy", d => tsnePoint(d)[1]).attr("r", 2.6)
  .attr("fill", exprColor(.1));

const hLeft = svg.append("g").attr("transform", "translate(843,0)")
  .call(d3.axisLeft(tY).tickValues(tsneTicks).tickFormat(d3.format("d")).tickSize(3).tickSizeOuter(0));
styleAxis(hLeft, 18, "#4d4d4d", "#444");
const hBottom = svg.append("g").attr("transform", "translate(0,1722.6)")
  .call(d3.axisBottom(tX).tickValues(tsneTicks).tickFormat(d3.format("d")).tickSize(3).tickSizeOuter(0));
styleAxis(hBottom, 18, "#4d4d4d", "#444");
svg.append("text").attr("x", 1164).attr("y", 1763).attr("text-anchor", "middle").attr("font-size", 21.5).attr("font-weight", "bold").text("tsne1");
svg.append("text").attr("transform", "translate(779,1465) rotate(-90)").attr("text-anchor", "middle").attr("font-size", 21.5).attr("font-weight", "bold").text("tsne2");
svg.append("text").attr("x", 1164.5).attr("y", 1215.5).attr("text-anchor", "middle").attr("font-size", 25).attr("font-weight", "bold").attr("font-style", "italic").text("MALAT1");
svg.append("g").selectAll("text").data(labelNames).enter().append("text")
  .attr("x", (d, i) => tsnePoint(labelPos[i])[0])
  .attr("y", (d, i) => tsnePoint(labelPos[i])[1])
  .attr("dy", ".36em").attr("text-anchor", "middle")
  .attr("font-size", 22.5).attr("font-weight", "bold").attr("fill", "#000")
  .text(d => d);

const exprY = d3.scaleLinear().domain([0, 8.3]).range([1531, 1433]);
colorBar("exprGrad", exprColor, exprY, 1505, 20);
const exprAxis = svg.append("g").attr("transform", "translate(1525,0)")
  .call(d3.axisRight(exprY).tickValues(exprTicks).tickSizeInner(-4).tickSizeOuter(0).tickPadding(11));
styleAxis(exprAxis, 18, "#000");
exprAxis.select("path.domain").remove();
exprAxis.selectAll("line").attr("stroke", "#fff").attr("stroke-opacity", .6);
const exprTitle = svg.append("text").attr("x", 1526).attr("y", 1389).attr("text-anchor", "middle").attr("font-size", 20).attr("font-weight", "bold");
exprTitle.append("tspan").text("log");
exprTitle.append("tspan").attr("font-size", 13).attr("dy", 4).text("2");
svg.append("text").attr("x", 1526).attr("y", 1412).attr("text-anchor", "middle").attr("font-size", 20).attr("font-weight", "bold").text("(Expression)");
</script>
</body>
</html>
